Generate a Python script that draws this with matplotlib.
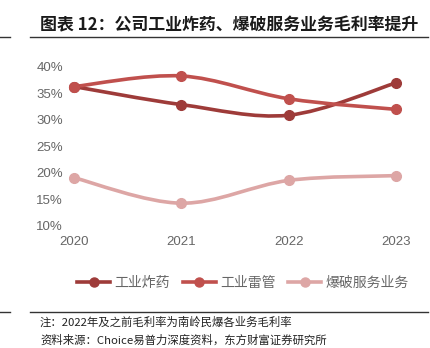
import matplotlib
matplotlib.use('Agg')
import matplotlib.pyplot as plt
from matplotlib.path import Path
from matplotlib.patches import PathPatch
from matplotlib.lines import Line2D
import matplotlib.ticker as mticker
import numpy as np

plt.rcParams['font.family'] = ['Liberation Sans', 'Noto Sans CJK SC', 'DejaVu Sans']

# 数据
anos = [2020, 2021, 2022, 2023]
explosivo = [36.3, 32.9, 30.9, 37.0]      # 工业炸药
detonador = [36.3, 38.3, 34.0, 32.0]      # 工业雷管
servico = [19.1, 14.3, 18.6, 19.5]        # 爆破服务业务
nomes = ['工业炸药', '工业雷管', '爆破服务业务']
cores = ['#9E3B39', '#C0504D', '#DDA6A5']

titulo = '图表 12：公司工业炸药、爆破服务业务毛利率提升'
nota = '注：2022年及之前毛利率为南岭民爆各业务毛利率'
fonte = '资料来源：Choice易普力深度资料，东方财富证券研究所'


def curva_suave(x, y):
    # curva estilo Excel (Catmull-Rom -> Bezier)
    p = np.column_stack([x, y]).astype(float)
    pts = np.vstack([p[0], p, p[-1]])
    verts = [tuple(p[0])]
    codes = [Path.MOVETO]
    for i in range(1, len(pts) - 2):
        c1 = pts[i] + (pts[i + 1] - pts[i - 1]) / 6
        c2 = pts[i + 1] - (pts[i + 2] - pts[i]) / 6
        verts += [tuple(c1), tuple(c2), tuple(pts[i + 1])]
        codes += [Path.CURVE4] * 3
    return Path(verts, codes)


fig = plt.figure(figsize=(4.3, 3.48), dpi=100)
ax = fig.add_axes([0.172, 0.3506, 0.749, 0.457])

for serie, cor in zip([explosivo, detonador, servico], cores):
    patch = PathPatch(curva_suave(anos, serie), fill=False, edgecolor=cor,
                      lw=2.6, capstyle='round', clip_on=False)
    ax.add_patch(patch)
    ax.plot(anos, serie, linestyle='none', marker='o', markersize=7,
            color=cor, clip_on=False, zorder=3)

ax.set_xlim(2020, 2023)
ax.set_ylim(10, 40)
ax.set_xticks(anos)
ax.set_yticks([10, 15, 20, 25, 30, 35, 40])
ax.yaxis.set_major_formatter(mticker.FormatStrFormatter('%d%%'))
ax.tick_params(axis='both', length=0, labelsize=9.5, labelcolor='#666666')
ax.tick_params(axis='y', pad=8)
ax.tick_params(axis='x', pad=7)
for s in ax.spines.values():
    s.set_visible(False)

handles = [Line2D([0], [0], color=c, lw=2.6, marker='o', markersize=6.5) for c in cores]
fig.legend(handles, nomes, loc='center', bbox_to_anchor=(0.565, 0.187), ncol=3,
           frameon=False, handlelength=2.4, columnspacing=0.9,
           handletextpad=0.3, labelcolor='#666666',
           prop={'family': ['Noto Sans CJK SC'], 'size': 10})

# título e linhas
fig.text(0.093, 0.928, titulo, fontsize=12.2, fontweight='bold',
         family=['Noto Sans CJK SC'], va='center', ha='left', color='#1a1a1a')
for yy in [1 - 37 / 348, 1 - 312 / 348]:
    fig.add_artist(Line2D([0, 10 / 430], [yy, yy], color='#333333', lw=1))
    fig.add_artist(Line2D([30 / 430, 428 / 430], [yy, yy], color='#333333', lw=1))

fig.text(0.093, 1 - 322 / 348, nota, fontsize=8.2, family=['Noto Sans CJK SC'],
         va='center', ha='left', color='#222222')
fig.text(0.093, 1 - 340 / 348, fonte, fontsize=8.2, family=['Noto Sans CJK SC'],
         va='center', ha='left', color='#222222')

plt.savefig('out.png', dpi=100)
